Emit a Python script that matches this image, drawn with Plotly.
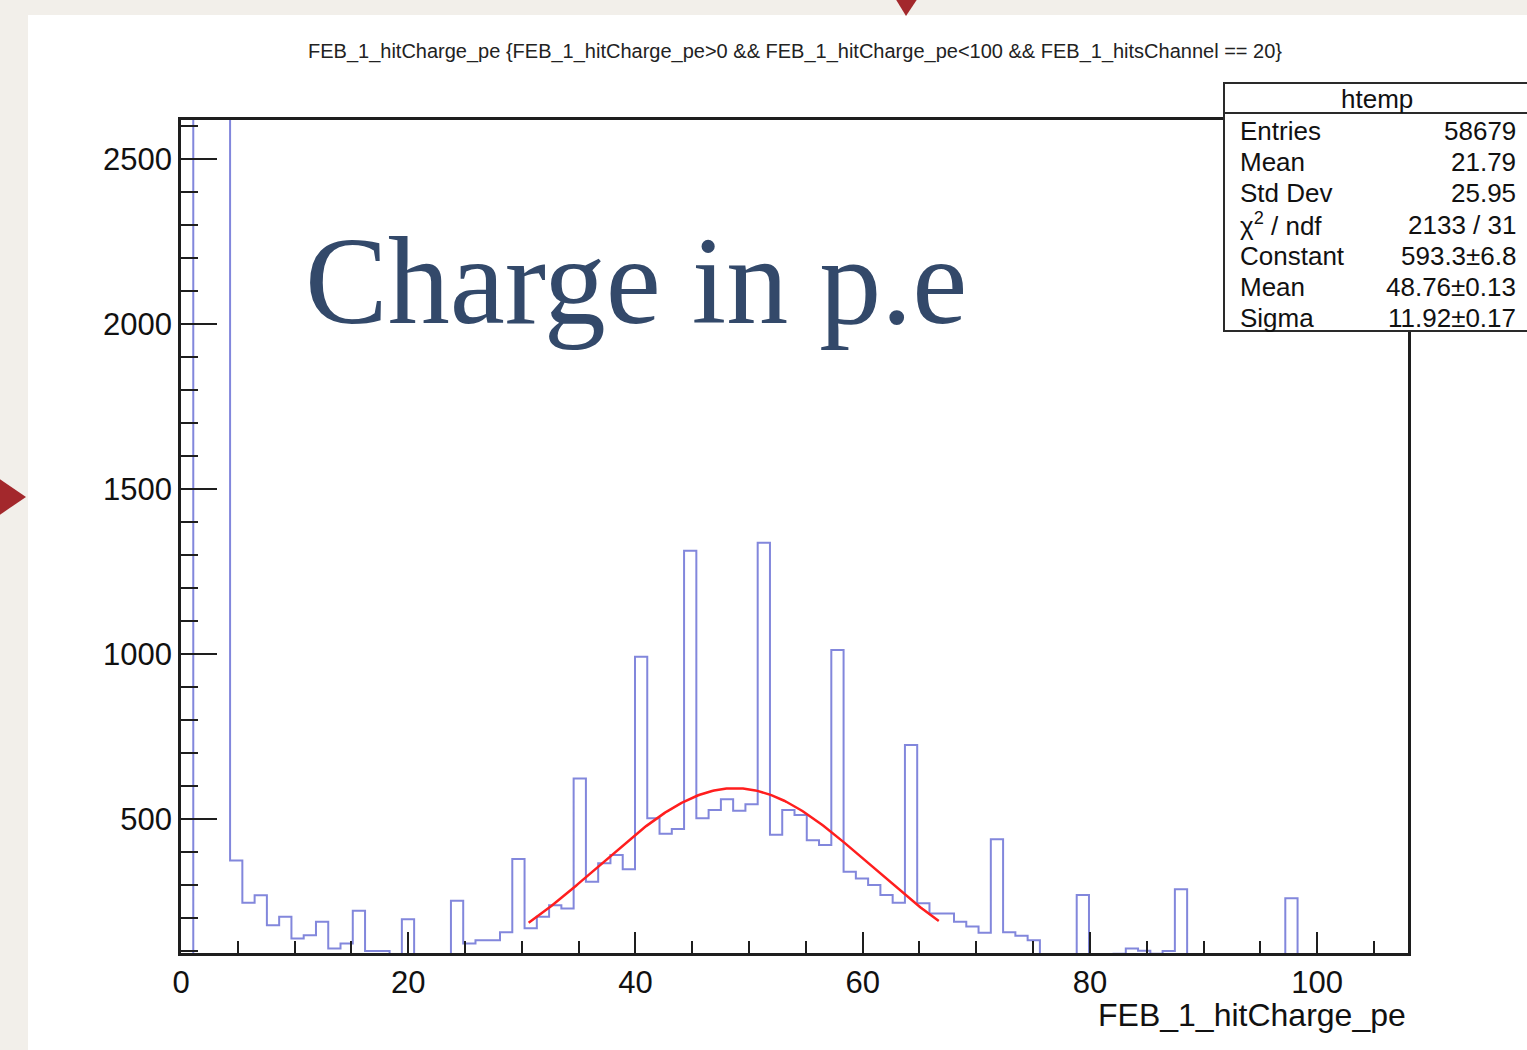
import numpy as np
import plotly.graph_objects as go

# ---- histogram htemp: FEB_1_hitCharge_pe, 100 equal bins over [0, 108) ----
x_low = 0.0
x_high = 108.0
counts = [
    40, 9800, 14500, 10100, 374, 246, 269, 178, 204, 138,    # bins 0-9
    148, 189, 108, 123, 222, 100, 100, 60, 196, 50,          # bins 10-19
    50, 90, 252, 123, 133, 133, 157, 379, 169, 204,          # bins 20-29
    239, 229, 623, 310, 366, 391, 348, 992, 502, 455,        # bins 30-39
    470, 1313, 502, 527, 560, 525, 545, 1337, 452, 527,      # bins 40-49
    512, 436, 421, 1012, 340, 320, 300, 270, 246, 724,       # bins 50-59
    245, 214, 214, 189, 174, 155, 439, 157, 146, 133,        # bins 60-69
    60, 60, 60, 270, 60, 60, 92, 108, 101, 92,               # bins 70-79
    100, 287, 40, 30, 30, 30, 30, 30, 30, 30,                # bins 80-89
    260, 30, 20, 0, 0, 0, 0, 0, 0, 0,                        # bins 90-99
]

# ---- gaussian fit result (as printed in the stats box) ----
fit_constant = 593.3
fit_mean = 48.76
fit_sigma = 11.92
fit_range = [30.6, 66.7]

# ---- stats box ----
stats_name = "htemp"
stats_labels = ["Entries", "Mean", "Std Dev", "χ<sup>2</sup> / ndf",
                "Constant", "Mean", "Sigma"]
stats_values = ["58679", "21.79", "25.95", "2133 / 31",
                "593.3±6.8", "48.76±0.13", "11.92±0.17"]

# ---- texts ----
plot_title = ("FEB_1_hitCharge_pe {FEB_1_hitCharge_pe>0 && FEB_1_hitCharge_pe<100 "
              "&& FEB_1_hitsChannel == 20}")
x_title = "FEB_1_hitCharge_pe"
slide_caption = "Charge in p.e"

y_range = [94, 2618]

# ---------------------------------------------------------------------------
W, H = 1527, 1050
L, R, T, B = 181, 119, 120, 97
plot_w = W - L - R
plot_h = H - T - B


def px(xp):
    """page pixel column -> paper x"""
    return (xp - L) / plot_w


def py(yp):
    """page pixel row -> paper y"""
    return 1 - (yp - T) / plot_h


edges = np.linspace(x_low, x_high, len(counts) + 1)
step_y = list(counts) + [counts[-1]]

fit_x = np.linspace(fit_range[0], fit_range[1], 200)
fit_y = fit_constant * np.exp(-0.5 * ((fit_x - fit_mean) / fit_sigma) ** 2)

fig = go.Figure()
fig.add_trace(go.Scatter(
    x=edges, y=step_y, mode="lines", line_shape="hv",
    line=dict(color="#8287dc", width=2), hoverinfo="skip", showlegend=False,
))
fig.add_trace(go.Scatter(
    x=fit_x, y=fit_y, mode="lines",
    line=dict(color="#ff1e1e", width=2.5), hoverinfo="skip", showlegend=False,
))

axis_font = dict(family="Liberation Sans, Arial, sans-serif", size=31, color="#111111")
ink = "#1e1e1e"

fig.update_xaxes(
    range=[x_low, x_high], tick0=0, dtick=20,
    ticks="inside", ticklen=21, tickwidth=2, tickcolor=ink,
    minor=dict(ticks="inside", dtick=5, ticklen=12, tickwidth=2, tickcolor=ink),
    showline=True, linewidth=2.5, linecolor=ink, mirror=True,
    showgrid=False, zeroline=False, tickfont=axis_font, ticklabelstandoff=0,
)
fig.update_yaxes(
    range=y_range, tick0=0, dtick=500,
    ticks="inside", ticklen=36, tickwidth=2, tickcolor=ink,
    minor=dict(ticks="inside", dtick=100, ticklen=17, tickwidth=2, tickcolor=ink),
    showline=True, linewidth=2.5, linecolor=ink, mirror=True,
    showgrid=False, zeroline=False, tickfont=axis_font, ticklabelstandoff=0,
)

shapes = [
    # white slide panel
    dict(type="rect", xref="paper", yref="paper", layer="below",
         x0=px(28), x1=px(W + 20), y0=py(15), y1=py(H + 20),
         fillcolor="white", line=dict(width=0)),
    # slide markers
    dict(type="path", xref="paper", yref="paper", layer="above",
         path=f"M {px(895)},{py(-2)} L {px(918)},{py(-2)} L {px(906)},{py(16)} Z",
         fillcolor="#a3282c", line=dict(width=0)),
    dict(type="path", xref="paper", yref="paper", layer="above",
         path=f"M {px(-2)},{py(478)} L {px(26)},{py(497)} L {px(-2)},{py(516)} Z",
         fillcolor="#a3282c", line=dict(width=0)),
    # stats box
    dict(type="rect", xref="paper", yref="paper", layer="above",
         x0=px(1224), x1=px(W + 30), y0=py(83), y1=py(331),
         fillcolor="white", line=dict(color="#2a2a2a", width=2)),
    dict(type="line", xref="paper", yref="paper", layer="above",
         x0=px(1224), x1=px(W + 30), y0=py(113), y1=py(113),
         line=dict(color="#2a2a2a", width=2)),
]

stat_font = dict(family="Liberation Sans, Arial, sans-serif", size=26, color="#111111")
annotations = [
    dict(text=plot_title, xref="paper", yref="paper", x=px(795), y=py(51),
         xanchor="center", yanchor="middle", showarrow=False,
         font=dict(family="Liberation Sans, Arial, sans-serif", size=20, color="#222222")),
    dict(text=x_title, xref="paper", yref="paper", x=px(1408), y=py(1015),
         xanchor="right", yanchor="middle", showarrow=False,
         font=dict(family="Liberation Sans, Arial, sans-serif", size=32, color="#111111")),
    dict(text=slide_caption, xref="paper", yref="paper", x=px(303), y=py(281),
         xanchor="left", yanchor="middle", showarrow=False,
         font=dict(family="Liberation Serif, Times New Roman, serif", size=124,
                   color="#33496a")),
    dict(text=stats_name, xref="paper", yref="paper", x=px(1377), y=py(99),
         xanchor="center", yanchor="middle", showarrow=False, font=stat_font),
]
for i, (lab, val) in enumerate(zip(stats_labels, stats_values)):
    yc = 131 + 31.2 * i
    annotations.append(dict(text=lab, xref="paper", yref="paper", x=px(1238), y=py(yc),
                            xanchor="left", yanchor="middle", showarrow=False,
                            font=stat_font))
    annotations.append(dict(text=val, xref="paper", yref="paper", x=px(1518), y=py(yc),
                            xanchor="right", yanchor="middle", showarrow=False,
                            font=stat_font))

fig.update_layout(
    width=W, height=H, autosize=False,
    margin=dict(l=L, r=R, t=T, b=B, pad=0),
    paper_bgcolor="#f2efea", plot_bgcolor="white",
    shapes=shapes, annotations=annotations, showlegend=False,
)

fig.write_html("out.html", config={"displayModeBar": False})
